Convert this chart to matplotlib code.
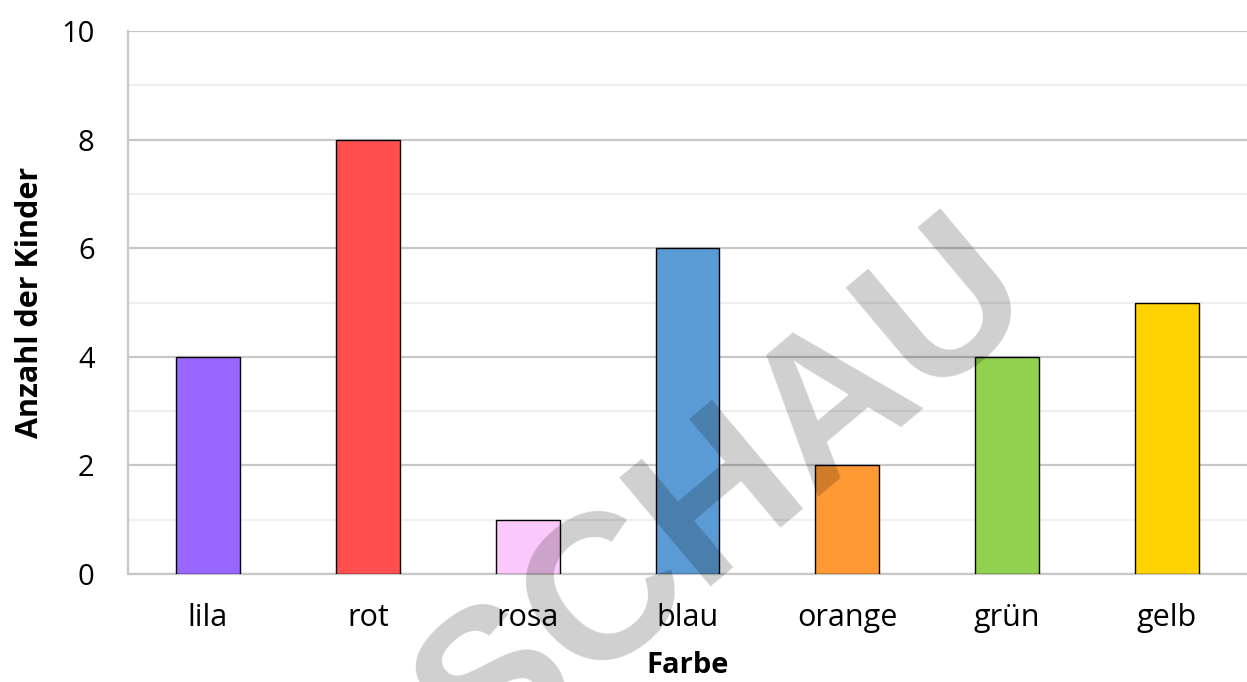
import matplotlib
matplotlib.use("Agg")
import matplotlib.pyplot as plt
from matplotlib.ticker import MultipleLocator

categories = ["lila", "rot", "rosa", "blau", "orange", "grün", "gelb"]
values = [4, 8, 1, 6, 2, 4, 5]
colors = ["#9966FF", "#FF4F4F", "#FAC8FA", "#5B9BD5", "#FF9933", "#92D050", "#FFD300"]
y_ticks = [0, 2, 4, 6, 8, 10]

plt.rcParams['font.family'] = ['Open Sans', 'DejaVu Sans']

fig = plt.figure(figsize=(12.47, 6.82), dpi=100)
ax = fig.add_axes([128/1247, 1-574/682, 1-128/1247, (574-31)/682])

x = list(range(len(categories)))
ax.bar(x, values, width=0.4, color=colors, edgecolor="black", linewidth=1.0, zorder=3)

ax.set_xlim(-0.5, len(categories) - 0.5)
ax.set_ylim(0, 10)
ax.set_yticks(y_ticks)
ax.yaxis.set_minor_locator(MultipleLocator(1))
ax.set_xticks(x)
ax.set_xticklabels(categories, fontsize=22)
ax.set_yticklabels([str(t) for t in y_ticks], fontsize=21)

ax.grid(axis='y', which='major', color='#c8c8c8', linewidth=1.6, zorder=0)
ax.grid(axis='y', which='minor', color='#efefef', linewidth=1.6, zorder=0)
ax.tick_params(axis='both', which='both', length=0)
ax.tick_params(axis='x', pad=21)
ax.tick_params(axis='y', pad=24)

for s in ['top', 'right']:
    ax.spines[s].set_visible(False)
ax.spines['left'].set_color('#c8c8c8')
ax.spines['left'].set_linewidth(1.6)
ax.spines['bottom'].set_color('#c8c8c8')
ax.spines['bottom'].set_linewidth(1.6)

ax.set_ylabel("Anzahl der Kinder", fontsize=22, fontweight='bold', labelpad=12)
ax.set_xlabel("Farbe", fontsize=21, fontweight='bold', labelpad=13)

fig.text(0.583, 0.268, "SCHAU", fontsize=148, fontweight='bold',
         family=['Liberation Sans', 'DejaVu Sans'], color='black', alpha=0.19,
         rotation=40, ha='center', va='center', zorder=10)

fig.savefig("out.png", dpi=100)
